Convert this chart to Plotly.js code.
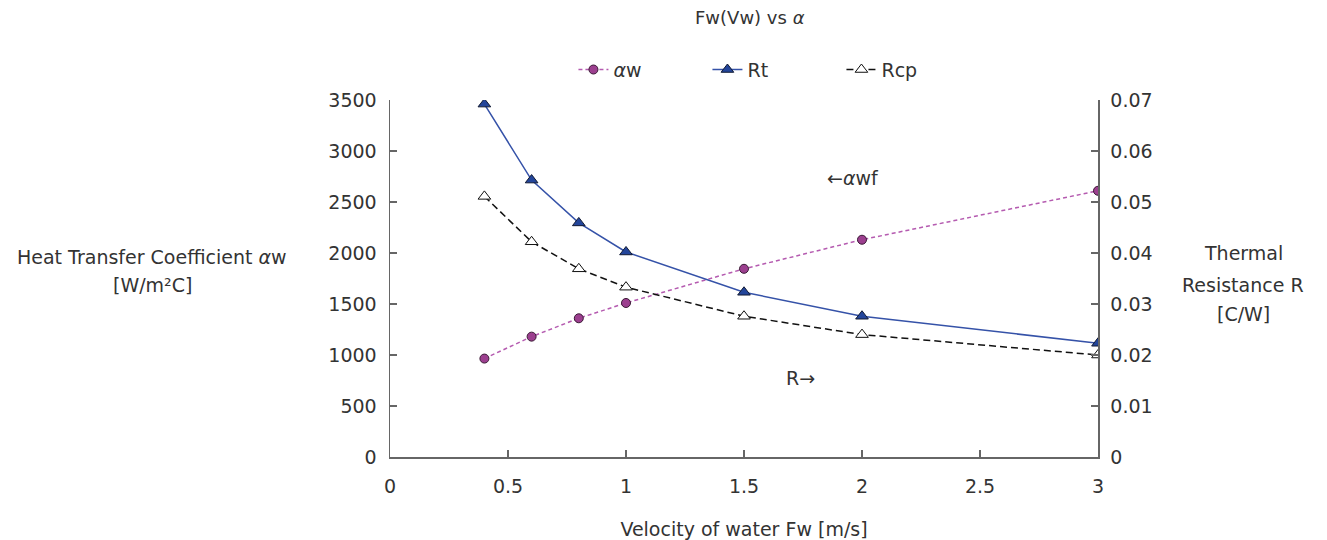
<!DOCTYPE html>
<html>
<head>
<meta charset="utf-8">
<script src="https://cdn.plot.ly/plotly-3.0.1.min.js"></script>
<style>body{margin:0;padding:0;background:#fff;}</style>
</head>
<body>
<div id="chart" style="width:1327px;height:540px;"></div>
<script>
const velocity = [0.4, 0.6, 0.8, 1.0, 1.5, 2.0, 3.0];
const alphaW = [965, 1180, 1360, 1510, 1845, 2130, 2610];
const rt = [0.0692, 0.0543, 0.0459, 0.0402, 0.0323, 0.0276, 0.0223];
const rcp = [0.0511, 0.0422, 0.0369, 0.0333, 0.0276, 0.0240, 0.0200];
const leftTicks = [0, 500, 1000, 1500, 2000, 2500, 3000, 3500];
const rightTicks = [0, 0.01, 0.02, 0.03, 0.04, 0.05, 0.06, 0.07];
const xTicks = [0, 0.5, 1, 1.5, 2, 2.5, 3];

const FONT = 'DejaVu Sans, sans-serif';
const TXT = '#333333';
const TICKSZ = 19;

const traces = [
  {
    x: velocity, y: alphaW, name: '<i>α</i>w', type: 'scatter', mode: 'lines+markers',
    yaxis: 'y',
    line: {color: '#b55bb0', width: 1.5, dash: '4px,3px'},
    marker: {symbol: 'circle', size: 9, color: '#9c3f8f', line: {color: '#3a1a35', width: 1}}
  },
  {
    x: velocity, y: rt, name: 'Rt', type: 'scatter', mode: 'lines+markers',
    yaxis: 'y2',
    line: {color: '#3552a8', width: 1.5},
    marker: {symbol: 'triangle-up', size: 11, color: '#23459a', line: {color: '#111a33', width: 1}}
  },
  {
    x: velocity, y: rcp, name: 'Rcp', type: 'scatter', mode: 'lines+markers',
    yaxis: 'y2',
    line: {color: '#111111', width: 1.5, dash: '7px,4px'},
    marker: {symbol: 'triangle-up', size: 11, color: '#ffffff', line: {color: '#111111', width: 1}}
  }
];

const axisCommon = {
  showgrid: false, zeroline: false, showline: true, linecolor: '#666666', linewidth: 1.5,
  ticks: 'inside', ticklen: 7, tickcolor: '#666666', tickwidth: 1.5,
  tickfont: {family: FONT, size: TICKSZ, color: TXT}
};

const rightTitleLines = ['Thermal', 'Resistance R', '[C/W]'];
const rightTitleY = [0.571, 0.482, 0.401];

const annotations = [
  {xref: 'paper', yref: 'paper', x: -0.336, y: 0.56, xanchor: 'center', yanchor: 'middle', showarrow: false,
   text: 'Heat Transfer Coefficient <i>α</i>w', font: {family: FONT, size: 19, color: TXT}},
  {xref: 'paper', yref: 'paper', x: -0.336, y: 0.481, xanchor: 'center', yanchor: 'middle', showarrow: false,
   text: '[W/m²C]', font: {family: FONT, size: 19, color: TXT}},
  {xref: 'paper', yref: 'paper', x: 0.615, y: 0.782, xanchor: 'left', yanchor: 'middle', showarrow: false,
   text: '←<i>α</i>wf', font: {family: FONT, size: 19, color: TXT}},
  {xref: 'paper', yref: 'paper', x: 0.557, y: 0.222, xanchor: 'left', yanchor: 'middle', showarrow: false,
   text: 'R→', font: {family: FONT, size: 19, color: TXT}}
];
rightTitleLines.forEach((t, i) => annotations.push({
  xref: 'paper', yref: 'paper', x: 1.205, y: rightTitleY[i], xanchor: 'center', yanchor: 'middle', showarrow: false,
  text: t, font: {family: FONT, size: 19, color: TXT}
}));

const layout = {
  width: 1327, height: 540,
  margin: {l: 390, r: 229, t: 100, b: 83},
  paper_bgcolor: '#ffffff', plot_bgcolor: '#ffffff',
  font: {family: FONT, size: 18, color: TXT},
  title: {text: 'Fw(Vw) vs <i>α</i>', x: 0.565, xanchor: 'center', y: 0.968, yanchor: 'middle', font: {family: FONT, size: 18, color: TXT}},
  showlegend: true,
  legend: {orientation: 'h', x: 0.543, xanchor: 'center', y: 1.085, yanchor: 'middle',
           font: {family: FONT, size: 19, color: TXT}, traceorder: 'normal', entrywidth: 89},
  xaxis: Object.assign({}, axisCommon, {
    range: [0, 3], tickvals: xTicks, ticktext: xTicks.map(String), ticklabelstandoff: 12,
    title: {text: 'Velocity of water Fw [m/s]', font: {family: FONT, size: 19, color: TXT}, standoff: 26}
  }),
  yaxis: Object.assign({}, axisCommon, {
    range: [0, 3500], tickvals: leftTicks, ticktext: leftTicks.map(String), ticklabelstandoff: 8
  }),
  yaxis2: Object.assign({}, axisCommon, {
    overlaying: 'y', side: 'right', range: [0, 0.07], tickvals: rightTicks, ticktext: rightTicks.map(String), ticklabelstandoff: 7
  }),
  annotations: annotations
};

Plotly.newPlot('chart', traces, layout, {displayModeBar: false, staticPlot: true});
</script>
</body>
</html>
